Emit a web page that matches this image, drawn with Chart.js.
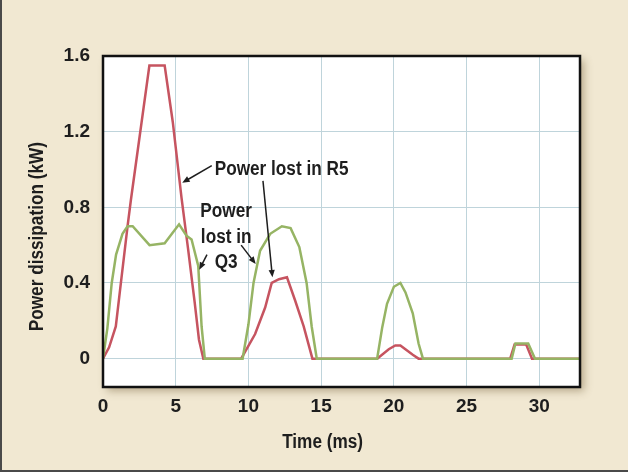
<!DOCTYPE html>
<html>
<head>
<meta charset="utf-8">
<script src="https://cdn.jsdelivr.net/npm/chart.js@4.4.0/dist/chart.umd.min.js"></script>
<style>
  html, body { margin: 0; padding: 0; background: #f1e8d2; }
  #wrap { width: 628px; height: 472px; }
</style>
</head>
<body>
<div id="wrap"><canvas id="powerChart" width="628" height="472"></canvas></div>
<script>

// power lost in R5 (red)
const r5Time  = [0, 0.42, 0.88, 1.23, 1.69, 1.92, 3.19, 4.24, 4.8, 5.4, 5.85, 6.3, 6.6, 6.9,
                 9.5, 10.46, 11.15, 11.6, 12.1, 12.65, 13.2, 13.8, 14.4,
                 18.85, 19.65, 20.1, 20.45, 21.3, 21.7,
                 28.0, 28.3, 29.1, 29.5, 32.8]
const r5Power = [0, 0.06, 0.17, 0.40, 0.70, 0.84, 1.55, 1.55, 1.25, 0.85, 0.58, 0.30, 0.10, 0,
                 0, 0.13, 0.27, 0.40, 0.42, 0.43, 0.31, 0.17, 0,
                 0, 0.05, 0.07, 0.07, 0.02, 0,
                 0, 0.075, 0.075, 0, 0]

// power lost in Q3 (green)
const q3Time  = [0, 0.3, 0.6, 0.9, 1.34, 1.69, 2.04, 3.2, 4.24, 5.23, 5.74, 6.09, 6.55, 6.78, 7.0,
                 9.6, 10.0, 10.35, 10.8, 11.5, 12.3, 12.9, 13.5, 14.0, 14.35, 14.7,
                 18.85, 19.2, 19.53, 20.0, 20.45, 20.8, 21.3, 21.7, 22.0,
                 28.1, 28.36, 29.24, 29.7, 32.8]
const q3Power = [0, 0.16, 0.40, 0.55, 0.66, 0.70, 0.70, 0.60, 0.61, 0.71, 0.65, 0.63, 0.49, 0.17, 0,
                 0, 0.18, 0.40, 0.57, 0.66, 0.70, 0.69, 0.59, 0.40, 0.17, 0,
                 0, 0.165, 0.29, 0.38, 0.40, 0.35, 0.24, 0.08, 0,
                 0, 0.08, 0.08, 0, 0]

const xTicks = [0, 5, 10, 15, 20, 25, 30]
const yTicks = [0, 0.4, 0.8, 1.2, 1.6]

const FONT = "'Liberation Sans', Arial, sans-serif"
const INK = '#1e1e1e'
const SQUEEZE = 0.86   // the original lettering is a condensed face


function toPoints(ts, ps){
  return ts.map((t, i) => ({ x: t, y: ps[i] }))
}


function narrowText(ctx, text, x, y, align, rot){
  ctx.save()
  ctx.translate(x, y)
  if (rot) ctx.rotate(rot)
  ctx.scale(SQUEEZE, 1)
  ctx.textAlign = align
  ctx.fillText(text, 0, 0)
  ctx.restore()
}


function arrow(ctx, x1, y1, x2, y2){
  const ang = Math.atan2(y2 - y1, x2 - x1)
  const len = 8
  ctx.beginPath()
  ctx.moveTo(x1, y1)
  ctx.lineTo(x2 - Math.cos(ang) * 4, y2 - Math.sin(ang) * 4)
  ctx.stroke()
  ctx.beginPath()
  ctx.moveTo(x2, y2)
  ctx.lineTo(x2 - len * Math.cos(ang - 0.4), y2 - len * Math.sin(ang - 0.4))
  ctx.lineTo(x2 - len * Math.cos(ang + 0.4), y2 - len * Math.sin(ang + 0.4))
  ctx.closePath()
  ctx.fill()
}


const backdrop = {
  id: 'backdrop',
  beforeDraw(chart){
    const { ctx, chartArea: a, width, height } = chart
    ctx.save()
    ctx.fillStyle = '#f1e8d2'
    ctx.fillRect(0, 0, width, height)

    // soft shadow under the plot box
    ctx.shadowColor = 'rgba(110, 90, 50, 0.45)'
    ctx.shadowBlur = 8
    ctx.shadowOffsetX = 4
    ctx.shadowOffsetY = 4
    ctx.fillStyle = '#ffffff'
    ctx.fillRect(a.left, a.top, a.right - a.left, a.bottom - a.top)
    ctx.restore()

    // page edge
    ctx.save()
    ctx.strokeStyle = '#4a4a4a'
    ctx.lineWidth = 2
    ctx.beginPath()
    ctx.moveTo(1, 0)
    ctx.lineTo(1, height - 1)
    ctx.lineTo(width, height - 1)
    ctx.stroke()
    ctx.restore()
  }
}


const frameAndNotes = {
  id: 'frameAndNotes',
  afterDatasetsDraw(chart){
    const { ctx, chartArea: a } = chart
    const X = v => chart.scales.x.getPixelForValue(v)
    const Y = v => chart.scales.y.getPixelForValue(v)

    ctx.save()
    ctx.strokeStyle = '#111'
    ctx.lineWidth = 2.5
    ctx.strokeRect(a.left, a.top, a.right - a.left, a.bottom - a.top)

    ctx.fillStyle = INK
    ctx.strokeStyle = INK
    ctx.lineWidth = 1.5
    ctx.font = 'bold 20px ' + FONT
    ctx.textBaseline = 'middle'

    // R5 label + arrows
    narrowText(ctx, 'Power lost in R5', X(7.68), Y(1.0), 'left')
    arrow(ctx, X(7.48), Y(1.02), X(5.45), Y(0.93))
    arrow(ctx, X(11.0), Y(0.94), X(11.65), Y(0.43))

    // Q3 label + arrows
    narrowText(ctx, 'Power', X(8.47), Y(0.78), 'center')
    narrowText(ctx, 'lost in', X(8.47), Y(0.64), 'center')
    narrowText(ctx, 'Q3', X(8.47), Y(0.51), 'center')
    arrow(ctx, X(7.15), Y(0.55), X(6.62), Y(0.47))
    arrow(ctx, X(9.5), Y(0.6), X(10.5), Y(0.5))

    ctx.restore()
  },
  afterDraw(chart){
    const { ctx } = chart
    const X = v => chart.scales.x.getPixelForValue(v)
    const Y = v => chart.scales.y.getPixelForValue(v)

    // axis titles, placed as in the original (a bit off-centre)
    ctx.save()
    ctx.fillStyle = INK
    ctx.font = 'bold 20px ' + FONT
    ctx.textBaseline = 'middle'
    narrowText(ctx, 'Time (ms)', X(15.1), 442, 'center')
    narrowText(ctx, 'Power dissipation (kW)', 37, Y(0.645), 'center', -Math.PI / 2)
    ctx.restore()
  }
}


new Chart(
  document.getElementById('powerChart'),
  {
    type: 'line',
    data: {
      datasets: [
        {
          label: 'Power lost in Q3',
          data: toPoints(q3Time, q3Power),
          borderColor: 'rgb(150, 180, 100)',
          borderWidth: 2.5,
          pointRadius: 0,
          tension: 0,
          order: 0
        },
        {
          label: 'Power lost in R5',
          data: toPoints(r5Time, r5Power),
          borderColor: 'rgb(198, 84, 96)',
          borderWidth: 2.5,
          pointRadius: 0,
          tension: 0,
          order: 1
        }
      ]
    },
    options: {
      responsive: false,
      animation: false,
      devicePixelRatio: 1,
      layout: {
        padding: { left: 0, top: 56, right: 48, bottom: 0 }
      },
      plugins: {
        legend: { display: false },
        tooltip: { enabled: false }
      },
      scales: {
        x: {
          type: 'linear',
          min: 0,
          max: 32.8,
          afterBuildTicks: s => { s.ticks = xTicks.map(v => ({ value: v })) },
          afterFit: s => { s.height = 85 },
          grid: { color: '#bfd4db', lineWidth: 1, drawTicks: false },
          border: { display: false },
          ticks: {
            autoSkip: false,
            maxRotation: 0,
            padding: 8,
            color: INK,
            font: { family: FONT, size: 19, weight: 'bold' }
          }
        },
        y: {
          type: 'linear',
          min: -0.15,
          max: 1.6,
          afterBuildTicks: s => { s.ticks = yTicks.map(v => ({ value: v })) },
          afterFit: s => { s.width = 103 },
          grid: { color: '#bfd4db', lineWidth: 1, drawTicks: false },
          border: { display: false },
          ticks: {
            padding: 13,
            color: INK,
            font: { family: FONT, size: 19, weight: 'bold' },
            callback: v => String(v)
          }
        }
      }
    },
    plugins: [backdrop, frameAndNotes]
  }
)

</script>
</body>
</html>
